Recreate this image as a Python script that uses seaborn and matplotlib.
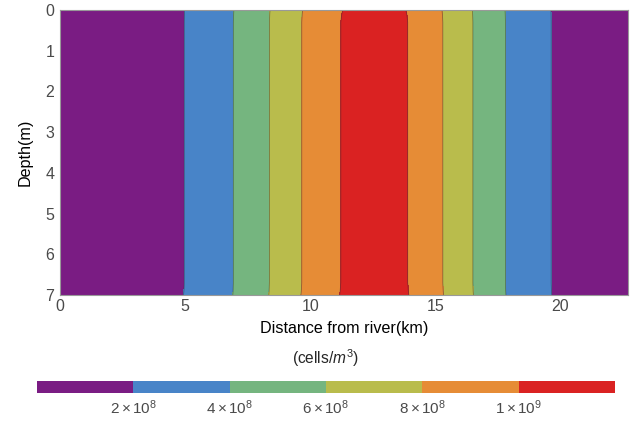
import numpy as np
import matplotlib
matplotlib.use("Agg")
import matplotlib.pyplot as plt
import seaborn as sns
from matplotlib.ticker import MultipleLocator, FixedLocator

# ---- data ----
distance_km = [0.0, 4.97, 6.93, 8.37, 9.66, 11.22, 12.55, 13.90, 15.30, 16.50, 17.80, 19.63, 22.7]
conc_cells = [0.3e8, 2e8, 4e8, 6e8, 8e8, 1.0e9, 1.1e9, 1.0e9, 8e8, 6e8, 4e8, 2e8, 0.3e8]
depth_m = [0.0, 0.1, 0.3, 6.7, 6.9, 7.0]
depth_factor = [0.994, 0.997, 1.0, 1.0, 1.003, 1.006]
levels = [0, 2e8, 4e8, 6e8, 8e8, 1e9, 1.2e9]
level_ticks = [2e8, 4e8, 6e8, 8e8, 1e9]
level_labels = [r"$2\times10^{8}$", r"$4\times10^{8}$", r"$6\times10^{8}$",
                r"$8\times10^{8}$", r"$1\times10^{9}$"]
palette = ["#7A1C83", "#4884C8", "#75B57F", "#B9BC4C", "#E68C36", "#DA2222"]
x_ticks = [0, 5, 10, 15, 20]
y_ticks = [0, 1, 2, 3, 4, 5, 6, 7]

sns.set_style("white")
plt.rcParams['font.family'] = ['Liberation Sans', 'DejaVu Sans']
plt.rcParams['mathtext.fontset'] = 'custom'
plt.rcParams['mathtext.rm'] = 'Liberation Sans'
plt.rcParams['mathtext.it'] = 'Liberation Sans:italic'

xg = np.linspace(distance_km[0], distance_km[-1], 600)
zg = np.linspace(depth_m[0], depth_m[-1], 400)
prof = np.interp(xg, distance_km, conc_cells)
fac = np.interp(zg, depth_m, depth_factor)
Z = fac[:, None] * prof[None, :]

cmap_cols = sns.color_palette(palette)

fig = plt.figure(figsize=(6.31, 4.21), dpi=100)
ax = fig.add_axes([60/631, 1-295/421, 568/631, 285/421])
cf = ax.contourf(xg, zg, Z, levels=levels, colors=cmap_cols)
ax.contour(xg, zg, Z, levels=levels[1:-1], colors=[(0.2, 0.2, 0.2, 0.5)], linewidths=0.6)
ax.set_xlim(distance_km[0], distance_km[-1])
ax.set_ylim(7, 0)
ax.xaxis.set_major_locator(FixedLocator(x_ticks))
ax.yaxis.set_major_locator(FixedLocator(y_ticks))
ax.xaxis.set_minor_locator(MultipleLocator(1))
ax.yaxis.set_minor_locator(MultipleLocator(0.2))
ax.tick_params(which='both', direction='in', top=True, right=True, colors='#888888',
               labelcolor='#4a4a4a', labelsize=11.5)
ax.tick_params(which='major', length=4, width=0.7)
ax.tick_params(which='minor', length=2, width=0.5)
ax.tick_params(axis='x', pad=3)
ax.tick_params(axis='y', pad=4)
for s in ax.spines.values():
    s.set_color('#999999')
    s.set_linewidth(0.8)
ax.set_xlabel("Distance from river(km)", fontsize=11.6, color='black', labelpad=5)
ax.set_ylabel("Depth(m)", fontsize=11.6, color='black', labelpad=9)

cax = fig.add_axes([37/631, 1-393/421, 578/631, 12/421])
cb = fig.colorbar(cf, cax=cax, orientation='horizontal', ticks=level_ticks)
cb.outline.set_visible(False)
cb.ax.set_xticklabels(level_labels)
cb.ax.tick_params(length=0, labelsize=11, labelcolor='#4a4a4a', pad=4)
fig.text(325/631, 1-358/421, "(cells/$m^3$)", ha='center', va='center', fontsize=11.2)

fig.savefig("out.png", dpi=100)
